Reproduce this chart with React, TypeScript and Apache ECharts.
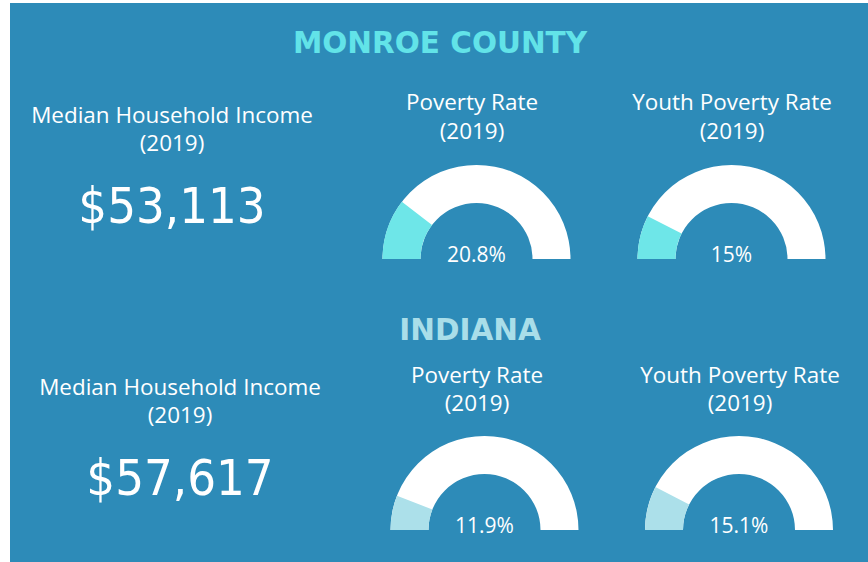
import React, { useEffect, useRef } from "react";
import * as echarts from "echarts";

const regions = ["MONROE COUNTY", "INDIANA"];
const incomeLabel = ["Median Household Income", "(2019)"];
const incomes = [53113, 57617];
const povertyRates = [20.8, 11.9];
const youthPovertyRates = [15, 15.1];
const gaugeLabels = [
  ["Poverty Rate", "(2019)"],
  ["Youth Poverty Rate", "(2019)"],
];

const BG = "#2D8BB8";
const headingColors = ["#62E3E8", "#A9DEE9"];
const fillColors = ["#6EE6E8", "#ACE0EA"];
const FONT = "'Open Sans', sans-serif";

// layout per region block
const layout = [
  {
    heading: [440, 43],
    income: [172, 115, 143, 205],
    gauges: [
      { c: [476.5, 259], t: [472, 102, 131] },
      { c: [731.5, 259], t: [732, 102, 131] },
    ],
  },
  {
    heading: [470, 330],
    income: [180, 387, 415, 477],
    gauges: [
      { c: [484.5, 530], t: [477, 375, 403] },
      { c: [739, 530], t: [740, 375, 403] },
    ],
  },
];

function txt(x: number, y: number, text: string, size: number, color: string, extra: any = {}) {
  return {
    type: "text",
    x,
    y,
    style: {
      text,
      fill: color,
      font: `${extra.weight || "normal"} ${size}px ${extra.family || FONT}`,
      textAlign: "center",
      textVerticalAlign: "middle",
    },
    scaleX: extra.scaleX || 1,
    scaleY: extra.scaleY || 1,
  };
}

export default function App() {
  const ref = useRef<HTMLDivElement>(null);
  useEffect(() => {
    if (!ref.current) return;
    const chart = echarts.init(ref.current, undefined, { renderer: "svg" });
    const graphics: any[] = [
      { type: "rect", shape: { x: 10, y: 3, width: 858, height: 559 }, style: { fill: BG }, z: -10 },
    ];
    const series: any[] = [];
    regions.forEach((name, i) => {
      const L = layout[i];
      graphics.push(
        txt(L.heading[0], L.heading[1], name, 29.5, headingColors[i], {
          weight: "bold",
          family: "'DejaVu Sans', sans-serif",
        })
      );
      graphics.push(txt(L.income[0], L.income[1], incomeLabel[0], 21, "#FFFFFF", { scaleX: 1.07 }));
      graphics.push(txt(L.income[0], L.income[2], incomeLabel[1], 21, "#FFFFFF", { scaleX: 1.07 }));
      graphics.push(
        txt(L.income[0], L.income[3], "$" + incomes[i].toLocaleString("en-US"), 48, "#FFFFFF", {
          family: "'DejaVu Sans Condensed', 'Liberation Sans Narrow', sans-serif",
          scaleX: 1.05,
          scaleY: 1.05,
        })
      );
      const vals = [povertyRates[i], youthPovertyRates[i]];
      L.gauges.forEach((g, j) => {
        graphics.push(txt(g.t[0], g.t[1], gaugeLabels[j][0], 21, "#FFFFFF", { scaleX: 1.07 }));
        graphics.push(txt(g.t[0], g.t[2], gaugeLabels[j][1], 21, "#FFFFFF", { scaleX: 1.07 }));
        series.push({
          type: "gauge",
          center: g.c,
          radius: 94,
          startAngle: 180,
          endAngle: 0,
          min: 0,
          max: 100,
          pointer: { show: false },
          anchor: { show: false },
          axisTick: { show: false },
          splitLine: { show: false },
          axisLabel: { show: false },
          title: { show: false },
          progress: { show: true, width: 38, roundCap: false, itemStyle: { color: fillColors[i] } },
          axisLine: { roundCap: false, lineStyle: { width: 38, color: [[1, "#FFFFFF"]] } },
          detail: {
            formatter: "{value}%",
            offsetCenter: [0, -5],
            color: "#FFFFFF",
            fontSize: 21,
            fontFamily: FONT,
            fontWeight: "normal",
            valueAnimation: false,
          },
          data: [{ value: vals[j] }],
        });
      });
    });
    chart.setOption({
      animation: false,
      backgroundColor: "#FFFFFF",
      graphic: { elements: graphics },
      series,
    });
    return () => chart.dispose();
  }, []);
  return <div ref={ref} style={{ position: "fixed", left: 0, top: 0, width: 868, height: 562 }} />;
}
